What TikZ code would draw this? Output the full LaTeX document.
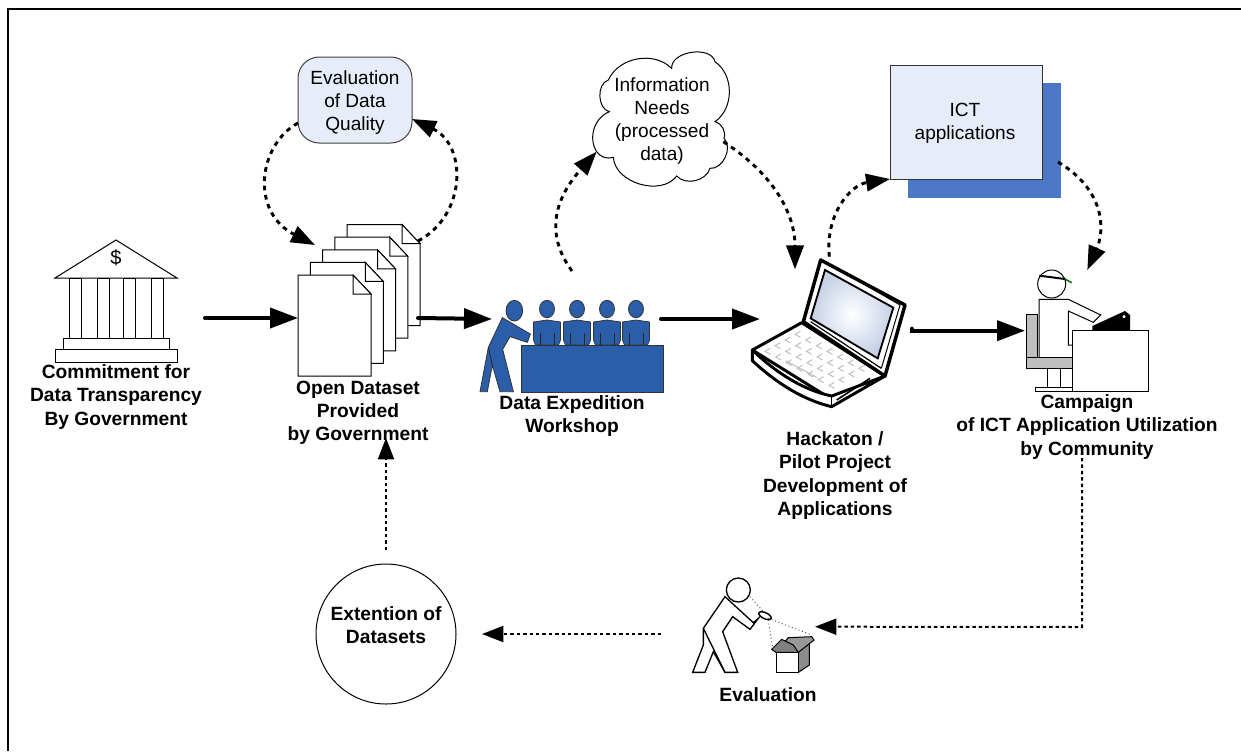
\documentclass[tikz,border=0pt]{standalone}
\usepackage{fontspec}
\setmainfont{Liberation Sans}
\usetikzlibrary{arrows.meta,shapes.geometric}
\definecolor{wsblue}{HTML}{2A5EA8}
\definecolor{ictblue}{HTML}{4A78C4}
\definecolor{paleblue}{HTML}{E6ECF8}
\definecolor{keygray}{HTML}{BDBDBD}
\definecolor{screenblue}{HTML}{C6D1E6}
\tikzset{
 x=0.75pt,y=-0.75pt,
 lab/.style={align=center,inner sep=0pt,font=\fontsize{14.4}{17.4}\selectfont\bfseries},
 plain/.style={align=center,inner sep=0pt,font=\fontsize{14.3}{17.25}\selectfont},
 solidarrow/.style={line width=3pt,line cap=round,-{Triangle[length=21pt,width=15pt]}},
 dasharrow/.style={line width=2.2pt,dash pattern=on 3.5pt off 3.5pt,-{Triangle[length=18pt,width=13pt]}},
 thinarrow/.style={line width=1.5pt,dash pattern=on 2.6pt off 2.2pt,-{Triangle[length=16pt,width=12pt]}},
 outline/.style={draw=black,line width=0.75pt,line join=miter},
 wsfill/.style={draw=black!80,fill=wsblue,line width=0.6pt},
 zoomed/.style={x=0.25pt,y=-0.25pt},
}
\newcommand{\onepage}[2]{%
 \path[outline,fill=white,shift={(#1,#2)}] (298,275) -- (353,275) -- (371,294) -- (371,376) -- (298,376) -- cycle;
 \path[outline,fill=white,shift={(#1,#2)}] (353,275) -- (353,294) -- (371,294) -- cycle;
}
\newcommand{\seated}[1]{%
 \begin{scope}[shift={(#1,0)}]
 \path[wsfill] (0,309) ellipse [x radius=7.5,y radius=8.7];
 \path[wsfill] (-13.5,322) -- (0,320) -- (13.5,322) -- (13.5,340) -- (11.5,345) -- (-11.5,345) -- (-13.5,340) -- cycle;
 \draw[black!85,line width=0.6pt] (-7,333) -- (-7,345) (7,333) -- (7,345);
 \end{scope}}
\begin{document}
\begin{tikzpicture}
\useasboundingbox (0,0) rectangle (1241,751);
\fill[white] (0,0) rectangle (1241,751);
\draw[line width=1.5pt] (8,751) -- (8,9) -- (1241,9);

% bank
\path[outline,fill=white] (116,240) -- (177,278) -- (55,278) -- cycle;
\foreach \cx in {69,97,123,151}{\path[outline,fill=white] (\cx,278) rectangle ++(12,60);}
\path[outline,fill=white] (63,338) rectangle (169,349.5);
\path[outline,fill=white] (55,349.5) rectangle (177,362);
\node[inner sep=0pt,font=\fontsize{15}{15}\selectfont] (dollar) at (116,258) {\$};
\coordinate (bankE) at (205,318);
\node[lab] (banklab) at (116,397) {Commitment for\\Data Transparency\\By Government};

% pages
\foreach \k in {4,3,2,1,0}{\onepage{\k*12.25}{-\k*12.6}}
\coordinate (pagesW) at (298,318);
\coordinate (pagesE) at (418,318);
\coordinate (pagesTL) at (315,245);
\coordinate (pagesTR) at (418,241);
\coordinate (pagesS) at (386,438);
\node[lab] (pageslab) at (358,413) {Open Dataset\\Provided\\by Government};

% evaluation of data quality
\node[draw=black!75,line width=0.75pt,fill=paleblue,rounded corners=16pt,minimum width=85.5pt,minimum height=64.5pt,inner sep=0pt] (evalq) at (355,100) {};
\node[plain] (evalqt) at (355,103) {Evaluation\\of Data\\Quality};
\coordinate (evalqL) at (298,123);
\coordinate (evalqR) at (412,119);

% cloud
\begin{scope}[shift={(250,40)},zoomed]
\draw[line width=0.75pt,fill=white] (1040,335) to[bend left=50] (1078,215) to[bend left=75] (1075,120)
 to[bend left=55] (1265,85) to[bend left=85] (1395,65) to[bend left=55] (1395,245)
 to[bend left=45] (1422,295) to[bend left=70] (1380,385) to[bend left=60] (1280,408)
 to[bend left=70] (1090,352) to[bend left=35] cycle;
\coordinate (cloudW) at (1040,335);
\coordinate (cloudE) at (1420,305);
\end{scope}
\node[plain] (cloudt) at (662,121) {Information\\Needs\\(processed\\data)};

% ICT applications
\node[fill=ictblue,inner sep=0pt,minimum width=114.75pt,minimum height=86.25pt] (ictshadow) at (984.5,140.5) {};
\node[draw=black!80,line width=0.75pt,fill=paleblue,inner sep=0pt,minimum width=114pt,minimum height=85.5pt] (ict) at (966,122) {};
\node[plain] (ictt) at (965,123) {ICT\\applications};
\coordinate (ictW) at (890,179);
\coordinate (ictE) at (1058,162);

% workshop
\seated{547}\seated{577}\seated{607}\seated{636}
\path[wsfill] (521,345) rectangle (663,392);
\begin{scope}[shift={(450,260)},zoomed]
\path[wsfill] (193,152) ellipse [x radius=25,y radius=31];
\path[wsfill] (157,173) -- (241,222) -- (232,247) -- (180,230) -- (158,268) -- (190,395) -- (150,395) -- (127,315) -- (112,395) -- (90,395) -- (115,262) -- cycle;
\draw[black!85,line width=0.6pt] (115,262) -- (127,315);
\end{scope}
\coordinate (wsW) at (492,319);
\coordinate (wsE) at (661,319);
\coordinate (wsN) at (572,271);
\node[lab] (wslab) at (572,416) {Data Expedition\\Workshop};

% laptop
\begin{scope}[shift={(720,240)},zoomed]
\path[fill=white,draw=black,line width=2.2pt,line join=round] (97,330) -- (245,248) -- (495,408) -- (335,478) -- cycle;
\path[fill=white,draw=black,line width=2.2pt,line join=round] (97,330) -- (97,362) .. controls (170,430) and (250,480) .. (335,500) -- (495,408) -- (335,468) .. controls (250,450) and (170,400) .. cycle;
\path[fill=white,draw=black,line width=2.6pt,line join=round] (302,60) -- (555,195) -- (495,408) -- (250,245) -- cycle;
\draw[line width=0.75pt] (320,68) -- (540,195) -- (484,385);
\shade[inner color=white,outer color=screenblue,draw=black,line width=1.4pt] (315,90) -- (520,203) -- (473,355) -- (272,235) -- cycle;
\draw[line width=0.9pt] (272,245) -- (484,385);
\draw[line width=1.2pt] (335,468) -- (335,500);
\draw[line width=1.2pt] (350,480) -- (450,415);
\foreach \u in {0,...,6}{\foreach \v in {0,...,3}{
  \draw[keygray,line width=0.7pt] ({225+\u*32-\v*30},{283+\u*17+\v*17}) ++(16,-9) -- ++(-16,9) -- ++(16,9);
}}
\draw[keygray,line width=0.7pt] (197,362) -- (290,412);
\coordinate (lapN) at (225,88);
\coordinate (lapTop) at (328,50);
\coordinate (lapW) at (120,237);
\coordinate (lapE) at (575,266);
\end{scope}
\node[lab] (laplab) at (835,475.5) {Hackaton /\\Pilot Project\\Development of\\Applications};

% campaign person
\begin{scope}[shift={(1000,260)},zoomed]
\path[outline,fill=white] (105,383) rectangle (217,395);
\path[outline,fill=white] (142,325) rectangle (180,383);
\path[outline,fill=black!25] (80,163) rectangle (113,292);
\path[outline,fill=white] (117,293) -- (117,118) -- (205,118) -- (302,165) -- (280,187) -- (205,153) -- (205,255) -- (218,255) -- (218,293) -- cycle;
\path[outline,fill=black!25] (80,293) rectangle (217,325);
\path[outline,fill=white] (217,210) rectangle (445,395);
\path[fill=black] (277,198) -- (375,153) -- (390,165) -- (390,210) -- (277,210) -- cycle;
\path[fill=white] (372,170) circle [radius=5];
\path[outline,fill=white] (155,72) circle [radius=42];
\draw[line width=1.5pt] (118,47) -- (195,57);
\draw[line width=1.1pt,green!40!black] (195,57) -- (215,68);
\coordinate (campW) at (75,212);
\coordinate (campN) at (262,30);
\end{scope}
\coordinate (campS) at (1082,458);
\node[lab] (camplab) at (1087,427) {Campaign\\of ICT Application Utilization\\by Community};

% evaluation person
\begin{scope}[shift={(670,590)},zoomed]
\path[outline,fill=white,line width=1pt] (205,0) circle [radius=36];
\path[outline,fill=white,line width=1pt] (165,20) -- (250,98) -- (265,85) -- (240,118) -- (188,80) -- (158,125) -- (203,247) -- (165,247) -- (130,185) -- (105,247) -- (68,247) -- (100,165) -- (100,115) -- cycle;
\draw[line width=1pt] (100,115) -- (165,247);
\draw[line width=1.1pt,fill=white,rotate around={-25:(285,77)}] (285,77) ellipse [x radius=20,y radius=9];
\draw[black!70,line width=0.7pt,dotted] (240,20) -- (280,65);
\draw[black!70,line width=0.7pt,dotted] (295,85) -- (425,135);
\draw[black!70,line width=0.7pt,dotted] (295,90) -- (308,175);
\path[outline,fill=black!45] (385,187) -- (418,155) -- (418,225) -- (385,247) -- cycle;
\path[outline,fill=black!40] (355,143) -- (425,140) -- (432,150) -- (385,187) -- (340,160) -- cycle;
\path[outline,fill=white] (318,187) rectangle (385,247);
\path[outline,fill=black!50] (305,178) -- (335,148) -- (370,165) -- (385,187) -- (318,187) -- cycle;
\coordinate (evalpE) at (435,110);
\coordinate (evalpW) at (-27,132);
\end{scope}
\node[lab] (evallab) at (768,695) {Evaluation};

% extension circle
\node[draw=black,line width=0.75pt,circle,minimum size=105pt,inner sep=0pt] (ext) at (386,634) {};
\node[lab] (extt) at (386,625) {Extention of\\Datasets};
\coordinate (extN) at (386,550);
\coordinate (extE) at (482,634);
\coordinate (corner) at (1082,627);

% connectors
\draw[solidarrow] (bankE) -- (pagesW);
\draw[solidarrow] (pagesE) -- (wsW);
\draw[solidarrow] (wsE) -- (lapW);
\draw[solidarrow] (lapE) |- (campW);
\draw[dasharrow] (evalqL) .. controls (258,145) and (250,212) .. (pagesTL);
\draw[dasharrow] (pagesTR) .. controls (467,215) and (467,145) .. (evalqR);
\draw[dasharrow] (wsN) .. controls (549,240) and (549,205) .. (cloudW);
\draw[dasharrow] (cloudE) .. controls (775,175) and (795,215) .. (lapN);
\draw[dasharrow] (lapTop) .. controls (825,215) and (850,185) .. (ictW);
\draw[dasharrow] (ictE) .. controls (1105,190) and (1105,230) .. (campN);
\draw[thinarrow] (campS) -- (corner) -- (evalpE);
\draw[thinarrow] (evalpW) -- (extE);
\draw[thinarrow] (extN) -- (pagesS);
\end{tikzpicture}
\end{document}
